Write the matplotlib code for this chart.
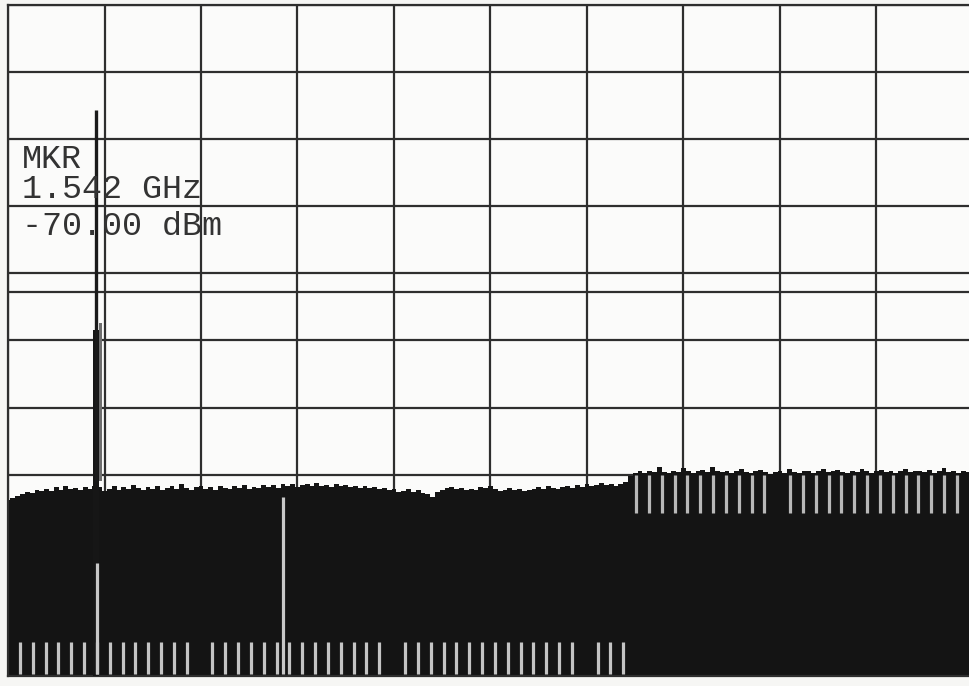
import numpy as np
import matplotlib
matplotlib.use("Agg")
import matplotlib.pyplot as plt

# sweep settings (GHz / dBm), 10 dB/div, 0.1 GHz/div
f_start = 1.45
f_stop = 2.45
f_div = 0.1
ref_level = -55.0
bottom_level = -155.0
db_div = 10.0
display_line = -97.8

# marker readout
mkr_freq = 1.542
mkr_level = -70.6
mkr_text = ["MKR", "1.542 GHz", "-70.00 dBm"]

# carrier skirt around the marker
skirt_lo, skirt_hi = 1.5385, 1.5447
skirt_level = -103.4

# trace samples, every 5 MHz from f_start (dBm)
noise_step = 0.005
noise_floor = [
    -128.8, -128.5, -128.2, -127.9, -127.6, -127.7, -127.3, -127.4, -127.1, -127.4,
    -126.8, -127.3, -126.7, -127.1, -127.0, -127.3, -126.8, -127.1, -126.7, -126.8,
    -127.4, -127.1, -126.7, -127.3, -126.8, -127.1, -126.5, -127.0, -127.3, -126.8,
    -127.1, -126.7, -127.3, -127.0, -126.7, -127.1, -126.4, -127.0, -127.3, -126.8,
    -126.7, -127.1, -126.8, -127.3, -126.7, -127.0, -127.1, -126.7, -127.0, -126.5,
    -127.1, -126.8, -127.0, -126.5, -126.8, -126.5, -127.0, -126.4, -126.7, -126.4,
    -126.8, -126.5, -126.4, -126.7, -126.2, -126.7, -126.5, -126.8, -126.4, -126.7,
    -126.5, -126.8, -126.7, -127.0, -126.7, -127.0, -126.8, -127.1, -127.0, -127.3,
    -127.1, -127.6, -127.4, -127.1, -127.6, -127.3, -127.7, -127.9, -128.3, -127.6,
    -127.3, -127.0, -126.8, -127.1, -127.0, -127.3, -127.1, -127.3, -126.8, -127.0,
    -126.7, -127.1, -127.4, -127.3, -127.0, -127.3, -127.1, -127.4, -127.3, -127.1,
    -126.8, -127.1, -126.7, -127.0, -127.1, -126.8, -126.7, -127.0, -126.5, -126.8,
    -126.4, -126.7, -126.5, -126.2, -126.5, -126.4, -126.7, -126.4, -126.1, -125.2,
    -124.7, -124.5, -124.8, -124.4, -124.6, -123.9, -124.6, -124.7, -124.4, -124.6,
    -124.0, -124.5, -124.7, -124.5, -124.3, -124.6, -123.8, -124.5, -124.6, -124.4,
    -124.7, -124.5, -124.2, -124.6, -124.8, -124.5, -124.3, -124.6, -124.9, -124.6,
    -124.4, -124.7, -124.1, -124.6, -124.8, -124.5, -124.4, -124.7, -124.5, -124.2,
    -124.6, -124.5, -124.3, -124.6, -124.8, -124.4, -124.6, -124.1, -124.5, -124.7,
    -124.5, -124.3, -124.6, -124.4, -124.7, -124.5, -124.2, -124.6, -124.5, -124.4,
    -124.6, -124.3, -124.7, -124.5, -124.0, -124.6, -124.4, -124.7, -124.5, -124.6,
    -124.5,
]

# white raster gaps of the display
gap_pitch = 0.01330
low_gap_start, low_gap_count = 1.4624, 48
low_gap_skip = [14, 29, 44]
low_gap_top = -149.9
high_gap_start, high_gap_count = 2.1008, 26
high_gap_skip = [11]
high_gap_top, high_gap_bottom = -125.0, -130.7
long_gaps = [1.5420, 1.7350]
long_gap_tops = [-138.2, -128.3]

fig = plt.figure(figsize=(9.69, 6.86), dpi=100)
fig.patch.set_facecolor("#f6f6f4")
ax = fig.add_axes([8 / 969, 10 / 686, 965 / 969, 671 / 686])
ax.set_facecolor("#fbfbfa")
ax.set_xlim(f_start, f_stop)
ax.set_ylim(bottom_level, ref_level)

grid_col = "#2e2e2e"
ax.set_xticks(f_start + f_div * np.arange(11))
ax.set_yticks(bottom_level + db_div * np.arange(11))
ax.grid(True, color=grid_col, linewidth=1.6)
ax.set_axisbelow(True)
ax.tick_params(length=0, labelbottom=False, labelleft=False)
for s in ax.spines.values():
    s.set_color(grid_col)
    s.set_linewidth(1.6)
ax.axhline(display_line, color=grid_col, linewidth=1.6, zorder=1)

# trace
freqs = f_start + noise_step * np.arange(len(noise_floor))
ax.fill_between(freqs, noise_floor, bottom_level, step="mid",
                color="#141414", linewidth=0, zorder=2)

# carrier
ax.fill_between([skirt_lo, skirt_hi], skirt_level, bottom_level,
                color="#161616", linewidth=0, zorder=3)
ax.fill_between([skirt_hi, skirt_hi + 0.0025], skirt_level + 1.0, -126.0,
                color="#6e6e6e", linewidth=0, zorder=3)
ax.vlines(mkr_freq - 0.0005, -126.0, mkr_level, color="#1a1a1a",
          linewidth=2.4, zorder=3)

# raster gaps
low = [low_gap_start + gap_pitch * k for k in range(low_gap_count) if k not in low_gap_skip]
ax.vlines(low, bottom_level + 0.3, low_gap_top, color="#c4c4c4", linewidth=2.3, zorder=4)
high = [high_gap_start + gap_pitch * k for k in range(high_gap_count) if k not in high_gap_skip]
ax.vlines(high, high_gap_bottom, high_gap_top, color="#b8b8b8", linewidth=2.3, zorder=4)
ax.vlines(long_gaps, bottom_level + 0.3, long_gap_tops, color="#c8c8c8",
          linewidth=2.3, zorder=4)

# marker readout
for txt, yb in zip(mkr_text, [0.757, 0.712, 0.657]):
    ax.text(0.0145, yb, txt, transform=ax.transAxes, family="Liberation Mono",
            fontsize=24, color="#333333", va="baseline", ha="left", zorder=5)

fig.savefig("out.png", dpi=100, facecolor=fig.get_facecolor())
